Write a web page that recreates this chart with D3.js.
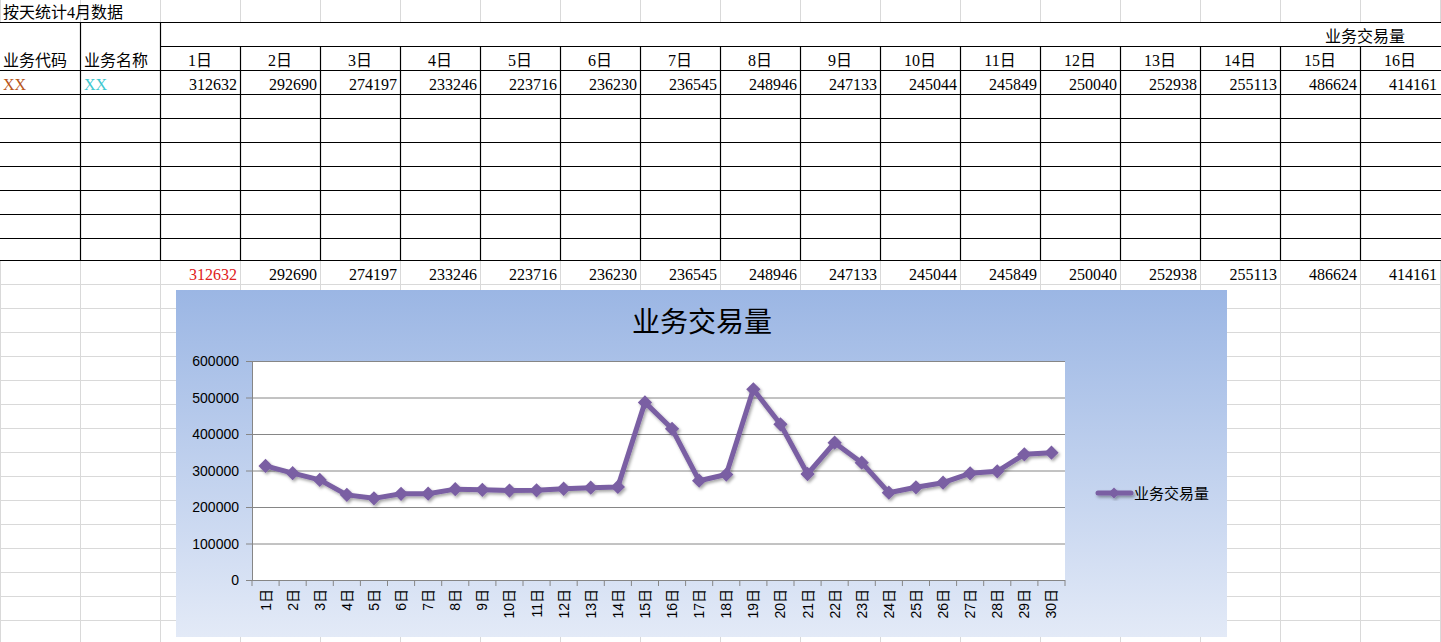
<!DOCTYPE html>
<html><head><meta charset="utf-8">
<script src="https://cdn.jsdelivr.net/npm/d3@7/dist/d3.min.js"></script>
<style>body{margin:0;background:#fff;overflow:hidden}</style>
</head><body>
<svg id="c" width="1441" height="642"></svg>
<script>
const days = d3.range(1,31).map(d=>d+"日");
const values = [312632,292690,274197,233246,223716,236230,236545,248946,247133,245044,245849,250040,252938,255113,486624,414161,272000,289000,522500,426600,290400,376200,321400,239200,254000,266600,292300,297800,344400,348800];
const yTicks = [0,100000,200000,300000,400000,500000,600000];
const seriesName = "业务交易量";
const sheetTitle = "按天统计4月数据";
const headCode = "业务代码", headName = "业务名称";

const svg = d3.select("#c");
const serif = "'Liberation Serif','Noto Sans CJK SC',serif";
const sans = "'Liberation Sans','Noto Sans CJK SC',sans-serif";
const colW = 80, W = 1441;
// light sheet grid
const g0 = svg.append("g").attr("stroke","#d9d9d9").attr("stroke-width",1);
d3.range(0,19).forEach(i=>g0.append("line").attr("x1",i*colW+0.5).attr("x2",i*colW+0.5).attr("y1",0).attr("y2",642));
[22].concat(d3.range(284,642,24)).forEach(y=>g0.append("line").attr("x1",0).attr("x2",W).attr("y1",y+0.5).attr("y2",y+0.5));
// white table bg
svg.append("rect").attr("x",0).attr("y",23).attr("width",W).attr("height",237).attr("fill","#fff");
const gt = svg.append("g").attr("stroke","#000").attr("stroke-width",1.2);
const hl=(y,x1)=>gt.append("line").attr("x1",x1).attr("x2",W).attr("y1",y+0.5).attr("y2",y+0.5);
hl(22,0); hl(46,160);
[70,94,118,142,166,190,214,238,260].forEach(y=>hl(y,0));
[80,160].forEach(x=>gt.append("line").attr("x1",x+0.5).attr("x2",x+0.5).attr("y1",22).attr("y2",260));
d3.range(3,18).forEach(i=>gt.append("line").attr("x1",i*colW+0.5).attr("x2",i*colW+0.5).attr("y1",46).attr("y2",260));
const txt=(x,y,s,anchor,fill,size)=>svg.append("text").attr("x",x).attr("y",y).attr("text-anchor",anchor||"start").attr("fill",fill||"#000").attr("font-family",serif).attr("font-size",size||16).text(s);
txt(3,18,sheetTitle);
txt(1405,42,seriesName,"end");
txt(3,66,headCode); txt(84,66,headName);
txt(3,90,"XX","start","#b8561a"); txt(84,90,"XX","start","#40c8d0");
values.slice(0,16).forEach((v,i)=>{
  const x0=160+i*colW;
  txt(x0+40,66,days[i],"middle");
  txt(x0+77,90,v,"end");
  txt(x0+77,280,v,"end",i===0?"#e02020":"#000");
});
// chart
const defs=svg.append("defs");
const lg=defs.append("linearGradient").attr("id","bg").attr("x1",0).attr("y1",0).attr("x2",0).attr("y2",1);
lg.append("stop").attr("offset","0%").attr("stop-color","#9bb6e4");
lg.append("stop").attr("offset","100%").attr("stop-color","#e3eaf7");
const f=defs.append("filter").attr("id","sh").attr("x","-20%").attr("y","-20%").attr("width","140%").attr("height","140%");
f.append("feDropShadow").attr("dx",1.5).attr("dy",2).attr("stdDeviation",1.5).attr("flood-color","#000").attr("flood-opacity",0.35);
svg.append("rect").attr("x",176).attr("y",290).attr("width",1051).attr("height",347).attr("fill","url(#bg)");
svg.append("text").attr("x",702).attr("y",332).attr("text-anchor","middle").attr("font-family","'Noto Sans CJK SC',sans-serif").attr("font-size",28).text(seriesName);
const x=d3.scaleBand().domain(days).range([252,1065]);
const y=d3.scaleLinear().domain([0,600000]).range([580,361]);
svg.append("rect").attr("x",252).attr("y",361).attr("width",813).attr("height",219).attr("fill","#fff");
const gg=svg.append("g");
yTicks.forEach(t=>gg.append("line").attr("x1",246).attr("x2",1065).attr("y1",y(t)+0.5).attr("y2",y(t)+0.5).attr("stroke","#868686"));
gg.append("line").attr("x1",252.5).attr("x2",252.5).attr("y1",361).attr("y2",580).attr("stroke","#868686");
days.concat(["end"]).forEach((d,i)=>{const xx=252+i*x.bandwidth();gg.append("line").attr("x1",xx).attr("x2",xx).attr("y1",580).attr("y2",586).attr("stroke","#868686");});
yTicks.forEach(t=>svg.append("text").attr("x",239).attr("y",y(t)+5).attr("text-anchor","end").attr("font-family",sans).attr("font-size",14).text(t));
days.forEach(d=>svg.append("text").attr("transform",`translate(${x(d)+x.bandwidth()/2+5},589) rotate(-90)`).attr("text-anchor","end").attr("font-family",sans).attr("font-size",14).text(d));
const col="#7a5fa3";
const gl=svg.append("g").attr("filter","url(#sh)");
gl.append("path").datum(values).attr("d",d3.line().x((v,i)=>x(days[i])+x.bandwidth()/2).y(v=>y(v))).attr("fill","none").attr("stroke",col).attr("stroke-width",5).attr("stroke-linejoin","round");
const sym=d3.symbol().type(d3.symbolDiamond2).size(130);
gl.selectAll(".m").data(values).join("path").attr("d",sym).attr("transform",(v,i)=>`translate(${x(days[i])+x.bandwidth()/2},${y(v)})`).attr("fill",col);
const lgG=svg.append("g").attr("filter","url(#sh)");
lgG.append("line").attr("x1",1098).attr("x2",1131).attr("y1",493).attr("y2",493).attr("stroke",col).attr("stroke-width",5).attr("stroke-linecap","round");
lgG.append("path").attr("d",d3.symbol().type(d3.symbolDiamond2).size(80)).attr("transform","translate(1114,493)").attr("fill",col);
svg.append("text").attr("x",1134).attr("y",499).attr("font-family","'Noto Sans CJK SC',sans-serif").attr("font-size",15).text(seriesName);
</script>
</body></html>
